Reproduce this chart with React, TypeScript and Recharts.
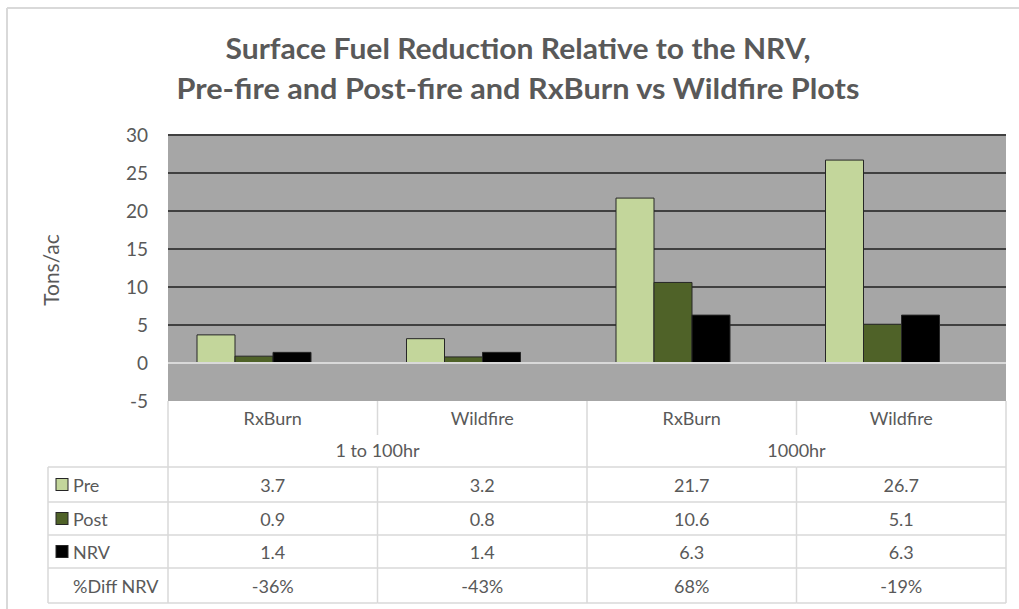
import React from 'react';
import { BarChart, Bar, XAxis, YAxis, CartesianGrid, ReferenceLine } from 'recharts';

// ---- data ----
const subCategories = ['RxBurn', 'Wildfire', 'RxBurn', 'Wildfire'];
const groupLabels = ['1 to 100hr', '1000hr'];
const groupOf = [0, 0, 1, 1];
const preValues = [3.7, 3.2, 21.7, 26.7];
const postValues = [0.9, 0.8, 10.6, 5.1];
const nrvValues = [1.4, 1.4, 6.3, 6.3];
const diffValues = [-0.36, -0.43, 0.68, -0.19];
const diffLabels = ['-36%', '-43%', '68%', '-19%'];
const yTicks = [-5, 0, 5, 10, 15, 20, 25, 30];
const gridValues = [5, 10, 15, 20, 25, 30];
const seriesNames = ['Pre', 'Post', 'NRV', '%Diff NRV'];
const titleLines = ['Surface Fuel Reduction Relative to the NRV,', 'Pre-fire and Post-fire and RxBurn vs Wildfire Plots'];
const titleWidths = [585, 683];
const yAxisTitle = 'Tons/ac';

// ---- style ----
const W = 1019;
const H = 609;
const PLOT_L = 168;
const PLOT_R = 1006;
const PLOT_T = 135;
const PLOT_B = 401;
const BAND = (PLOT_R - PLOT_L) / subCategories.length;
const FONT = "Lato, 'Open Sans', sans-serif";
const TEXT = '#595959';
const LINE = '#D9D9D9';
const COLORS = ['#C3D69B', '#4F6228', '#000000'];
const FS = 18;

const data = subCategories.map((s, i) => ({
  id: `${groupLabels[groupOf[i]]}|${s}|${i}`,
  pre: preValues[i],
  post: postValues[i],
  nrv: nrvValues[i],
  diff: diffValues[i],
}));

const rowValues = [
  preValues.map((v) => v.toFixed(1)),
  postValues.map((v) => v.toFixed(1)),
  nrvValues.map((v) => v.toFixed(1)),
  diffLabels,
];

// row boundaries relative to the axis top
const ROW_EDGES = [66, 101, 134, 167, 202];
const SUB_ROW_BOTTOM = 34;

const TableTick = (props: any) => {
  const { x, y, payload } = props;
  const i: number = props.index ?? payload.index;
  const half = BAND / 2;
  const left = x - half;
  const right = x + half;
  const els: React.ReactNode[] = [];
  const isGroupStart = i === 0 || groupOf[i] !== groupOf[i - 1];
  const bottom = y + ROW_EDGES[ROW_EDGES.length - 1];

  if (isGroupStart) {
    els.push(<line key="lv" x1={left} x2={left} y1={y} y2={bottom} stroke={LINE} strokeWidth={1.5} />);
  } else {
    els.push(<line key="lv1" x1={left} x2={left} y1={y} y2={y + SUB_ROW_BOTTOM} stroke={LINE} strokeWidth={1.5} />);
    els.push(<line key="lv2" x1={left} x2={left} y1={y + ROW_EDGES[0]} y2={bottom} stroke={LINE} strokeWidth={1.5} />);
  }
  if (i === subCategories.length - 1) {
    els.push(<line key="rv" x1={right} x2={right} y1={y} y2={bottom} stroke={LINE} strokeWidth={1.5} />);
  }
  const hx1 = i === 0 ? 48 : left;
  ROW_EDGES.forEach((e, k) => {
    els.push(<line key={`h${k}`} x1={hx1} x2={right} y1={y + e} y2={y + e} stroke={LINE} strokeWidth={1.5} />);
  });
  els.push(
    <text key="sub" x={x} y={y + 17} textAnchor="middle" dominantBaseline="central" fill={TEXT} fontSize={FS} fontFamily={FONT}>
      {subCategories[i]}
    </text>
  );
  if (isGroupStart) {
    let count = 0;
    for (let j = i; j < subCategories.length && groupOf[j] === groupOf[i]; j++) count++;
    els.push(
      <text key="grp" x={left + (count * BAND) / 2} y={y + 49} textAnchor="middle" dominantBaseline="central" fill={TEXT} fontSize={FS} fontFamily={FONT}>
        {groupLabels[groupOf[i]]}
      </text>
    );
  }
  rowValues.forEach((vals, r) => {
    const cy = y + (ROW_EDGES[r] + ROW_EDGES[r + 1]) / 2;
    els.push(
      <text key={`v${r}`} x={x} y={cy} textAnchor="middle" dominantBaseline="central" fill={TEXT} fontSize={FS} fontFamily={FONT}>
        {vals[i]}
      </text>
    );
  });
  if (i === 0) {
    els.push(<line key="tl" x1={48} x2={48} y1={y + ROW_EDGES[0]} y2={bottom} stroke={LINE} strokeWidth={1.5} />);
    seriesNames.forEach((name, r) => {
      const cy = y + (ROW_EDGES[r] + ROW_EDGES[r + 1]) / 2;
      if (r < COLORS.length) {
        els.push(
          <rect key={`sq${r}`} x={56} y={cy - 6} width={12} height={12} fill={COLORS[r]} stroke="#262626" strokeWidth={1} />
        );
      }
      els.push(
        <text key={`n${r}`} x={73} y={cy} textAnchor="start" dominantBaseline="central" fill={TEXT} fontSize={FS} fontFamily={FONT}>
          {name}
        </text>
      );
    });
  }
  return <g>{els}</g>;
};

const YLabel = (props: any) => {
  const vb = props.viewBox || {};
  const cy = (vb.y ?? PLOT_T) + (vb.height ?? PLOT_B - PLOT_T) / 2 + 2;
  const cx = 50;
  return (
    <text x={cx} y={cy} transform={`rotate(-90 ${cx} ${cy})`} textAnchor="middle" dominantBaseline="central" fill={TEXT} fontSize={21} fontFamily={FONT}>
      {yAxisTitle}
    </text>
  );
};

export default function App() {
  return (
    <div style={{ position: 'absolute', left: 0, top: 0, width: W, height: H, background: '#fff' }}>
      <svg width={W} height={H} style={{ position: 'absolute', left: 0, top: 0 }}>
        <line x1={7} x2={W} y1={8} y2={8} stroke={LINE} strokeWidth={2} />
        <line x1={7} x2={7} y1={8} y2={H} stroke={LINE} strokeWidth={2} />
        {titleLines.map((t, k) => (
          <text
            key={k}
            x={518}
            y={47 + k * 40}
            textAnchor="middle"
            dominantBaseline="central"
            fill={TEXT}
            fontSize={29}
            fontWeight="bold"
            fontFamily={FONT}
            textLength={titleWidths[k]}
            lengthAdjust="spacingAndGlyphs"
          >
            {t}
          </text>
        ))}
      </svg>
      <div style={{ position: 'absolute', left: 0, top: 0 }}>
        <BarChart
          width={W}
          height={H}
          data={data}
          margin={{ top: PLOT_T, right: W - PLOT_R, bottom: 0, left: 0 }}
          barSize={38}
          barGap={0}
        >
          <CartesianGrid vertical={false} horizontalValues={gridValues} stroke="#404040" strokeWidth={2} fill="#A6A6A6" fillOpacity={1} />
          <XAxis
            dataKey="id"
            interval={0}
            height={H - PLOT_B}
            tickLine={false}
            axisLine={false}
            tickSize={0}
            tickMargin={0}
            tick={<TableTick />}
          />
          <YAxis
            width={PLOT_L}
            domain={[-5, 30]}
            ticks={yTicks}
            interval={0}
            tickLine={false}
            axisLine={false}
            tickSize={0}
            tickMargin={20}
            tick={{ fill: TEXT, fontSize: 19, fontFamily: FONT }}
            label={<YLabel />}
          />
          <ReferenceLine y={0} stroke={LINE} strokeWidth={2} />
          <Bar dataKey="pre" name="Pre" fill={COLORS[0]} stroke="#262626" strokeWidth={1} isAnimationActive={false} />
          <Bar dataKey="post" name="Post" fill={COLORS[1]} stroke="#262626" strokeWidth={1} isAnimationActive={false} />
          <Bar dataKey="nrv" name="NRV" fill={COLORS[2]} stroke="#262626" strokeWidth={1} isAnimationActive={false} />
          <Bar dataKey="diff" name="%Diff NRV" fill="none" stroke="none" isAnimationActive={false} />
        </BarChart>
      </div>
    </div>
  );
}
